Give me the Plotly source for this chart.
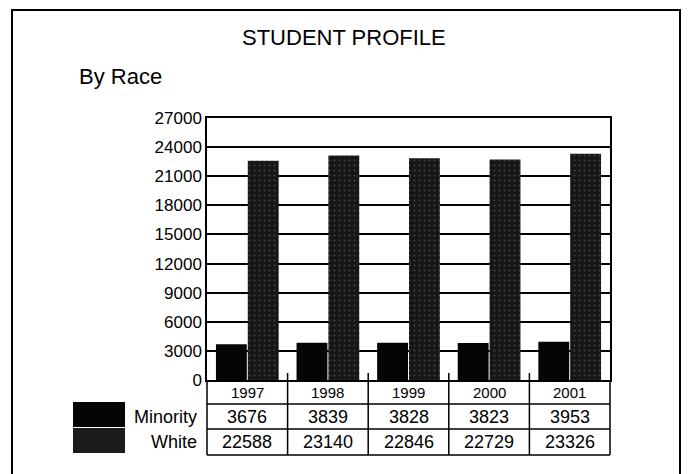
import plotly.graph_objects as go

years = ["1997", "1998", "1999", "2000", "2001"]
minority = [3676, 3839, 3828, 3823, 3953]
white = [22588, 23140, 22846, 22729, 23326]
series_names = ["Minority", "White"]
y_ticks = [0, 3000, 6000, 9000, 12000, 15000, 18000, 21000, 24000, 27000]
title_text = "STUDENT PROFILE"
subtitle_text = "By Race"

W, H = 689, 474
L, R, T, B = 207, 610, 118, 380
FONT = "Liberation Sans, Arial, sans-serif"


def px(x):
    return (x - L) / (R - L)


def py(y):
    return (B - y) / (B - T)


fig = go.Figure()
fig.add_trace(go.Bar(x=years, y=minority, name=series_names[0],
                     marker=dict(color="#050505", line=dict(width=0))))
fig.add_trace(go.Bar(x=years, y=white, name=series_names[1],
                     marker=dict(color="#151515", line=dict(width=0),
                                 pattern=dict(shape=".", bgcolor="#161616", fgcolor="#707070",
                                              size=5, solidity=0.12))))

shapes = []
# outer frame
shapes.append(dict(type="rect", xref="paper", yref="paper",
                   x0=px(12), x1=px(680), y0=py(490), y1=py(10),
                   line=dict(color="black", width=2), layer="below"))
# data table
row_lines = [380, 404, 429, 455]
for yy in row_lines[1:]:
    shapes.append(dict(type="line", xref="paper", yref="paper", x0=0, x1=1,
                       y0=py(yy), y1=py(yy), line=dict(color="black", width=1.5)))
n = len(years)
for i in range(n + 1):
    top = 380 if i in (0, n) else 373
    shapes.append(dict(type="line", xref="paper", yref="paper", x0=i / n, x1=i / n,
                       y0=py(455), y1=py(top), line=dict(color="black", width=1.5)))
# legend swatches
shapes.append(dict(type="rect", xref="paper", yref="paper", x0=px(73), x1=px(125),
                   y0=py(427), y1=py(402), fillcolor="#050505", line=dict(width=0)))
shapes.append(dict(type="rect", xref="paper", yref="paper", x0=px(73), x1=px(125),
                   y0=py(453), y1=py(428), fillcolor="#1c1c1c", line=dict(width=0)))

ann = []
ann.append(dict(text=title_text, xref="paper", yref="paper", x=px(344), y=py(37),
                showarrow=False, font=dict(family=FONT, size=22, color="black"),
                xanchor="center", yanchor="middle"))
ann.append(dict(text=subtitle_text, xref="paper", yref="paper", x=px(77), y=py(76),
                showarrow=False, font=dict(family=FONT, size=22, color="black"),
                xanchor="left", yanchor="middle"))
row_centers = [392, 416.5, 442]
for i, yr in enumerate(years):
    ann.append(dict(text=yr, x=i, xref="x", yref="paper", y=py(row_centers[0]),
                    showarrow=False, font=dict(family=FONT, size=15, color="black"),
                    xanchor="center", yanchor="middle"))
    ann.append(dict(text=str(minority[i]), x=i, xref="x", yref="paper", y=py(row_centers[1]),
                    showarrow=False, font=dict(family=FONT, size=18, color="black"),
                    xanchor="center", yanchor="middle"))
    ann.append(dict(text=str(white[i]), x=i, xref="x", yref="paper", y=py(row_centers[2]),
                    showarrow=False, font=dict(family=FONT, size=18, color="black"),
                    xanchor="center", yanchor="middle"))
for name, yc in zip(series_names, row_centers[1:]):
    ann.append(dict(text=name, xref="paper", yref="paper", x=px(199), y=py(yc),
                    showarrow=False, font=dict(family=FONT, size=18, color="black"),
                    xanchor="right", yanchor="middle"))

fig.update_layout(
    width=W, height=H,
    margin=dict(l=L, r=W - R, t=T, b=H - B, pad=0),
    paper_bgcolor="white", plot_bgcolor="white",
    showlegend=False,
    barmode="group", bargap=0.21, bargroupgap=0.03,
    shapes=shapes, annotations=ann,
    font=dict(family=FONT, color="black"),
)
fig.update_xaxes(type="category", showticklabels=False, showgrid=False, showline=True,
                 linecolor="black", linewidth=1.5, mirror=True, ticks="")
fig.update_yaxes(range=[0, 27000], tickvals=y_ticks, ticktext=[str(v) for v in y_ticks],
                 showgrid=True, gridcolor="black", gridwidth=1.5,
                 showline=True, linecolor="black", linewidth=1.5, mirror=True,
                 ticks="", tickfont=dict(family=FONT, size=17, color="black"),
                 zeroline=False)

fig.write_html("out.html", post_script="document.body.style.margin='0';",
               config={"displayModeBar": False})
